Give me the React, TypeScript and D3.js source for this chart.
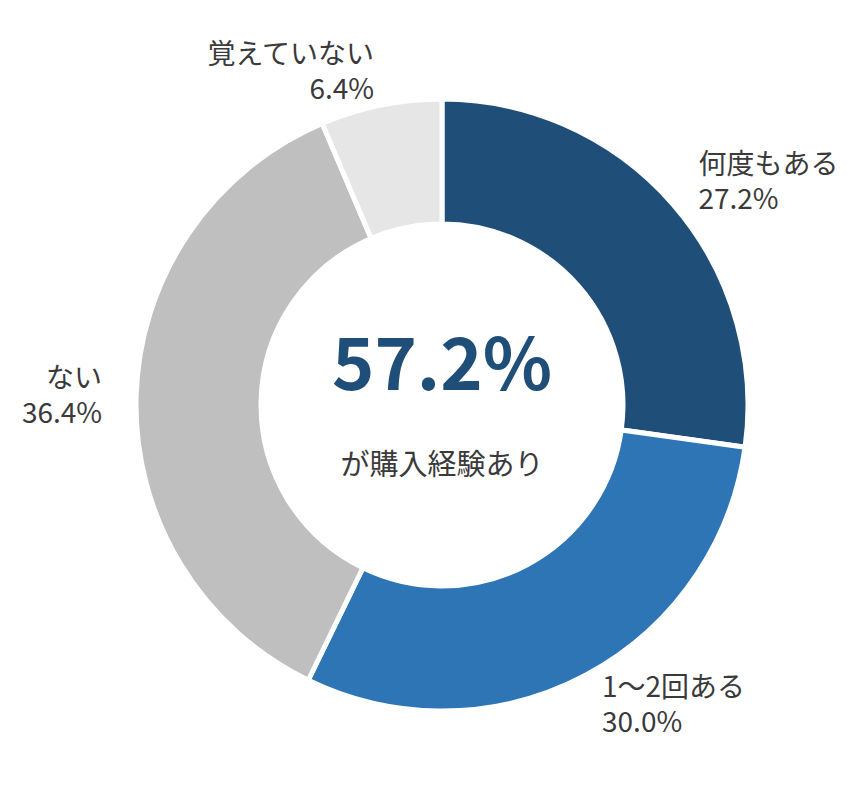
import { useEffect, useRef } from "react";
import * as d3 from "d3";

const labels = ["何度もある", "1〜2回ある", "ない", "覚えていない"];
const values = [27.2, 30.0, 36.4, 6.4];
const colors = ["#1f4e79", "#2e75b6", "#bfbfbf", "#e7e6e6"];
const centerValue = "57.2%";
const centerCaption = "が購入経験あり";

export default function App() {
  const ref = useRef<SVGSVGElement>(null);

  useEffect(() => {
    if (!ref.current) return;
    const W = 863, H = 810;
    const cx = 442, cy = 405;
    const outerR = 306, innerR = 181, labelR = 340;
    const font = "'Noto Sans CJK JP', 'Noto Sans', sans-serif";

    const svg = d3.select(ref.current).attr("width", W).attr("height", H);
    svg.selectAll("*").remove();
    const g = svg.append("g").attr("transform", `translate(${cx},${cy})`);

    const pie = d3.pie<number>().sort(null).value(d => d);
    const arcs = pie(values);
    const arc = d3.arc<d3.PieArcDatum<number>>().innerRadius(innerR).outerRadius(outerR);
    const labelArc = d3.arc<d3.PieArcDatum<number>>().innerRadius(labelR).outerRadius(labelR);

    g.selectAll("path.slice").data(arcs).enter().append("path")
      .attr("class", "slice")
      .attr("d", arc)
      .attr("fill", (_, i) => colors[i])
      .attr("stroke", "#fff").attr("stroke-width", 5).attr("stroke-linejoin", "miter");

    // Labels: name on one line, percentage below
    arcs.forEach((a, i) => {
      const [x, y] = labelArc.centroid(a);
      const anchor = x >= 0 ? "start" : "end";
      g.append("text")
        .attr("x", x).attr("y", y - 8)
        .attr("text-anchor", anchor)
        .attr("font-family", font).attr("font-size", 28).attr("fill", "#3a3a3a")
        .text(labels[i]);
      g.append("text")
        .attr("x", x).attr("y", y + 27)
        .attr("text-anchor", anchor)
        .attr("font-family", font).attr("font-size", 28).attr("fill", "#3a3a3a")
        .text(`${values[i].toFixed(1)}%`);
    });

    // Center text
    g.append("text")
      .attr("x", 0).attr("y", -15)
      .attr("text-anchor", "middle")
      .attr("font-family", font).attr("font-size", 72).attr("font-weight", 700)
      .attr("fill", "#1f4e79")
      .text(centerValue);
    g.append("text")
      .attr("x", 0).attr("y", 70)
      .attr("text-anchor", "middle")
      .attr("font-family", font).attr("font-size", 29)
      .attr("fill", "#3a3a3a")
      .text(centerCaption);
  }, []);

  return (
    <div style={{ position: "absolute", left: 0, top: 0, width: 863, height: 810, background: "#fff" }}>
      <svg ref={ref} style={{ display: "block" }} />
    </div>
  );
}
